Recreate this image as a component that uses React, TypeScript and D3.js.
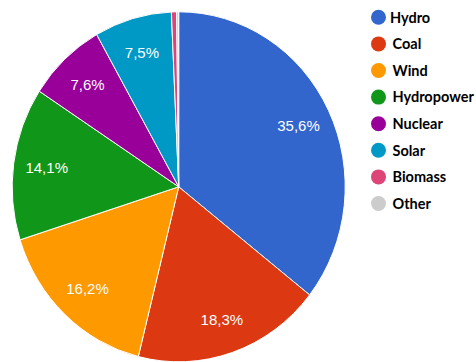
import React from "react";
import * as d3 from "d3";

const categories = ["Hydro", "Coal", "Wind", "Hydropower", "Nuclear", "Solar", "Biomass", "Other"];
const values = [35.6, 18.3, 16.2, 14.1, 7.6, 7.5, 0.5, 0.2];
const colors = ["#3366cc", "#dc3912", "#ff9900", "#109618", "#990099", "#0099c6", "#dd4477", "#cccccc"];
const labelTexts = ["35,6%", "18,3%", "16,2%", "14,1%", "7,6%", "7,5%", "", ""];

const W = 476;
const H = 362;
const cx = 178.7;
const cy = 186.8;
const rx = 166.5;
const ry = 175;

export default function App() {
  const pie = d3.pie<number>().sort(null).value((d) => d);
  const arcs = pie(values);
  const arc = d3.arc<d3.PieArcDatum<number>>().innerRadius(0).outerRadius(rx);
  const legendY = d3.scaleLinear().domain([0, 1]).range([17.3, 43.9]);
  const lr = 0.8;

  return (
    <svg width={W} height={H} style={{ position: "absolute", left: 0, top: 0, background: "#fff" }}>
      <g transform={`translate(${cx},${cy}) scale(1,${ry / rx})`}>
        {arcs.map((a, i) => (
          <path
            key={categories[i]}
            d={arc(a) || ""}
            fill={colors[i]}
            stroke="#fff"
            strokeWidth={1}
            vectorEffect="non-scaling-stroke"
          />
        ))}
      </g>
      <g>
        {arcs.map((a, i) => {
          if (!labelTexts[i]) return null;
          const m = (a.startAngle + a.endAngle) / 2;
          const x = cx + Math.sin(m) * rx * lr;
          const y = cy - Math.cos(m) * ry * lr;
          return (
            <text
              key={"l" + i}
              x={x}
              y={y}
              dy="0.36em"
              textAnchor="middle"
              fill="#fff"
              fontFamily="'Liberation Sans', Arial, sans-serif"
              fontSize={15}
            >
              {labelTexts[i]}
            </text>
          );
        })}
      </g>
      <g>
        {categories.map((c, i) => (
          <g key={"lg" + c} transform={`translate(0,${legendY(i)})`}>
            <circle cx={378.5} cy={0} r={7.5} fill={colors[i]} />
            <text
              x={i === 0 ? 390 : 392.5}
              y={0}
              dy="0.36em"
              fill="#000"
              fontFamily="Lato, 'Open Sans', sans-serif"
              fontWeight="bold"
              fontSize={14.5}
            >
              {c}
            </text>
          </g>
        ))}
      </g>
    </svg>
  );
}
